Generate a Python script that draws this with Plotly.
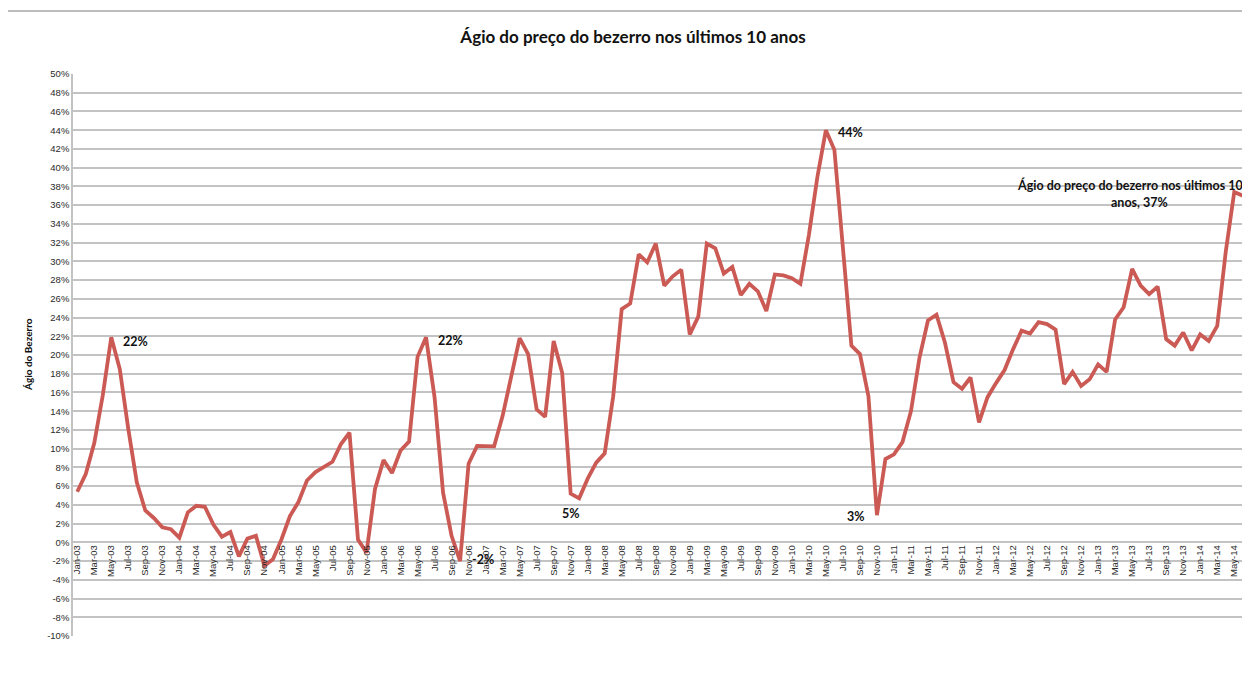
import plotly.graph_objects as go

# ---- data ----
month_abbr = ["Jan", "Feb", "Mar", "Apr", "May", "Jun", "Jul", "Aug", "Sep", "Oct", "Nov", "Dec"]
years = ["03", "04", "05", "06", "07", "08", "09", "10", "11", "12", "13", "14"]
months = [f"{m}-{y}" for y in years for m in month_abbr][:138]  # Jan-03 .. Jun-14

agio = [
    # 2003
    5.4, 7.3, 10.6, 15.7, 21.9, 18.5, 12.1, 6.4, 3.4, 2.6, 1.6, 1.4,
    # 2004
    0.5, 3.2, 3.9, 3.8, 1.9, 0.6, 1.1, -1.5, 0.4, 0.7, -2.5, -1.8,
    # 2005
    0.3, 2.8, 4.3, 6.6, 7.5, 8.0, 8.6, 10.5, 11.7, 0.3, -1.1, 5.7,
    # 2006
    8.8, 7.4, 9.8, 10.75, 19.8, 21.9, 15.5, 5.3, 0.7, -2.0, 8.4, 10.3,
    # 2007
    10.25, 10.25, 13.5, 17.5, 21.8, 20.1, 14.2, 13.4, 21.5, 18.1, 5.2, 4.7,
    # 2008
    6.8, 8.5, 9.5, 15.6, 24.9, 25.5, 30.75, 29.9, 31.9, 27.4, 28.4, 29.1,
    # 2009
    22.2, 24.1, 31.9, 31.4, 28.7, 29.4, 26.4, 27.6, 26.8, 24.7, 28.6, 28.5,
    # 2010
    28.2, 27.6, 32.8, 39.0, 44.0, 41.9, 31.6, 21.0, 20.1, 15.6, 2.9, 8.9,
    # 2011
    9.4, 10.7, 14.0, 19.7, 23.7, 24.3, 21.3, 17.1, 16.4, 17.6, 12.8, 15.5,
    # 2012
    17.0, 18.4, 20.6, 22.6, 22.3, 23.5, 23.3, 22.7, 16.9, 18.2, 16.7, 17.4,
    # 2013
    19.0, 18.2, 23.8, 25.1, 29.2, 27.4, 26.5, 27.3, 21.7, 21.0, 22.4, 20.5,
    # 2014
    22.2, 21.5, 23.1, 31.0, 37.4, 37.0,
]

y_ticks = list(range(-10, 51, 2))
y_ticktext = [f"{v}%" for v in y_ticks]
x_tickvals = months[::2]

series_name = "Ágio do preço do bezerro nos últimos 10 anos"
title_text = "Ágio do preço do bezerro nos últimos 10 anos"
y_title = "Ágio do Bezerro"

# labelled points: (month, text, xanchor, yanchor, xshift, yshift)
point_labels = [
    ("May-03", "22%", "left", "middle", 10, -4),
    ("Jun-06", "22%", "left", "middle", 10, -3),
    ("Oct-06", "-2%", "left", "middle", 10, 2),
    ("Nov-07", "5%", "center", "top", 0, -10),
    ("May-10", "44%", "left", "middle", 10, -2),
    ("Nov-10", "3%", "right", "middle", -10, -1),
]

# page is rendered with an 8px body margin -> design in page pixels, shift by OFF
OFF = 8
W, H = 1250 - OFF, 691 - OFF
ML = 73 - OFF
MT = 74 - OFF
MR = W - (1247 - OFF)
MB = H - (636 - OFF)
PW, PH = W - ML - MR, H - MT - MB

def px_x(p):  # page pixel -> paper x
    return (p - OFF - ML) / PW

def px_y(p):  # page pixel -> paper y
    return (H - MB - (p - OFF)) / PH

line_color = "#CB5A55"
grid_color = "#C3C3C3"

fig = go.Figure()
fig.add_trace(go.Scatter(
    x=months, y=agio, mode="lines", name=series_name,
    line=dict(color=line_color, width=3.8),
    cliponaxis=False,
))

annotations = []
for m, t, xa, ya, xs, ys in point_labels:
    annotations.append(dict(
        x=m, y=agio[months.index(m)], xref="x", yref="y", text=t, showarrow=False,
        xanchor=xa, yanchor=ya, xshift=xs, yshift=ys,
        font=dict(family="Lato", size=12.5, color="#111111", weight="bold"),
    ))

# series-name data label on the May-14 point
annotations.append(dict(
    x=px_x(1245), y=px_y(185), xref="paper", yref="paper",
    text=f"{series_name[:-5]}",
    showarrow=False, xanchor="right", yanchor="middle", align="right",
    font=dict(family="Lato", size=12.5, color="#111111", weight="bold"),
))
annotations.append(dict(
    x=px_x(1139), y=px_y(202), xref="paper", yref="paper",
    text=f"{series_name[-4:]}, {round(agio[months.index('May-14')])}%",
    showarrow=False, xanchor="center", yanchor="middle", align="center",
    font=dict(family="Lato", size=12.5, color="#111111", weight="bold"),
))

# y-axis title
annotations.append(dict(
    x=px_x(28), y=px_y(355), xref="paper", yref="paper", text=y_title,
    showarrow=False, textangle=-90, xanchor="center", yanchor="middle",
    font=dict(family="Lato", size=10, color="#111111", weight="bold"),
))

shapes = [
    # outer chart frame
    dict(type="rect", xref="paper", yref="paper",
         x0=px_x(7), x1=px_x(1270), y0=px_y(720), y1=px_y(11),
         line=dict(color="#A8A8A8", width=1.5), fillcolor="rgba(0,0,0,0)", layer="below"),
]

fig.update_layout(
    width=W, height=H,
    margin=dict(l=ML, r=MR, t=MT, b=MB, pad=0),
    paper_bgcolor="white", plot_bgcolor="white",
    showlegend=False,
    title=dict(text=title_text, x=(633 - OFF) / W, xref="container", xanchor="center",
               y=1 - (37 - OFF) / H, yref="container", yanchor="middle",
               font=dict(family="Lato", size=17, color="#111111", weight="bold")),
    annotations=annotations,
    shapes=shapes,
)

fig.update_xaxes(
    type="category", range=[-0.5, len(months) - 0.5],
    tickmode="array", tickvals=x_tickvals, ticktext=x_tickvals,
    tickangle=-90, showgrid=False, zeroline=False, showline=False, ticks="",
    anchor="free", position=10 / 60,
    tickfont=dict(family="Liberation Sans", size=9.5, color="#2a2a2a"),
)
fig.update_yaxes(
    range=[-10, 50], tickmode="array", tickvals=y_ticks, ticktext=y_ticktext,
    showgrid=True, gridcolor=grid_color, gridwidth=1.5, zeroline=False,
    showline=True, linecolor=grid_color, linewidth=1.5, ticks="",
    tickfont=dict(family="Liberation Sans", size=9.5, color="#2a2a2a"),
)

fig.write_html("out.html")
